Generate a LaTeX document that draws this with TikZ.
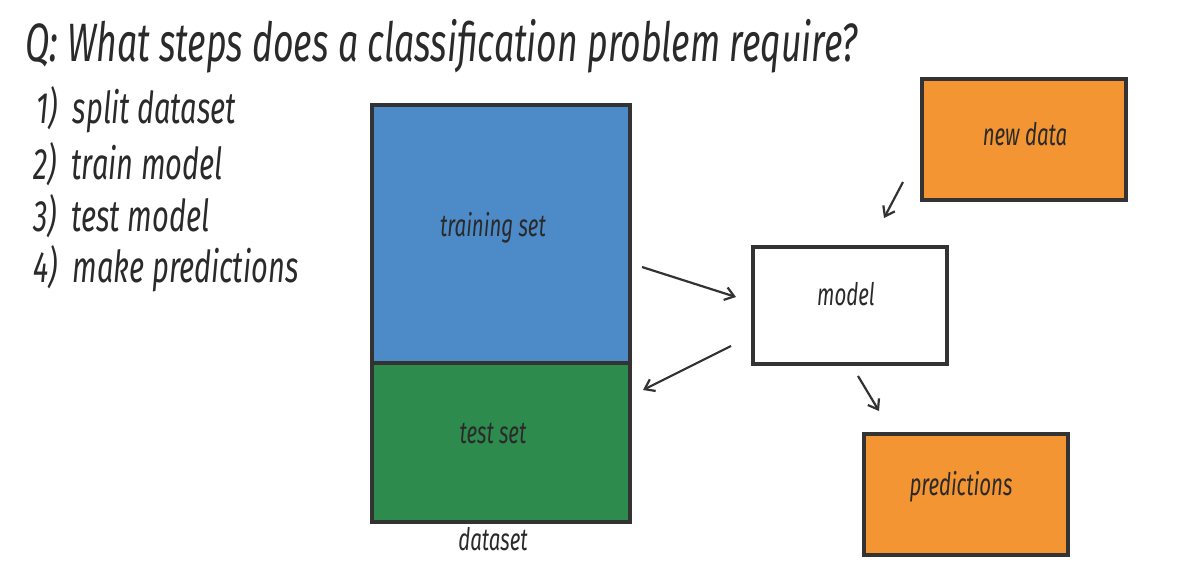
\documentclass[tikz,border=0pt]{standalone}
\usepackage{fontspec}
\setmainfont{Fira Sans}[FakeStretch=0.66]
\usetikzlibrary{arrows.meta}
\definecolor{txt}{HTML}{2A2A2A}
\definecolor{edge}{HTML}{333333}
\definecolor{bluefill}{HTML}{4D8AC8}
\definecolor{greenfill}{HTML}{2E8B4E}
\definecolor{orangefill}{HTML}{F39532}
\tikzset{
  box/.style={draw=edge,line width=3.5pt,inner sep=0pt,anchor=north west},
  lbl/.style={text=txt,font=\fontsize{31}{34}\selectfont\itshape,inner sep=0pt},
  listitem/.style={text=txt,font=\fontsize{44}{48}\selectfont\itshape,anchor=west,inner sep=0pt},
  arr/.style={draw=edge,line width=2.2pt,-{Straight Barb[length=9pt,width=13pt,line width=2.2pt]}}
}
\begin{document}
\begin{tikzpicture}[x=1pt,y=-1pt]
\useasboundingbox (0,0) rectangle (1178,566);
\node[text=txt,font=\fontsize{54}{58}\selectfont\itshape,anchor=west,inner sep=0pt] (title) at (25,46) {Q: What steps does a classification problem require?};
\node[listitem] (s1) at (36,110) {1)\ \ split dataset};
\node[listitem] (s2) at (33,164) {2)\ \ train model};
\node[listitem] (s3) at (33,216) {3)\ \ test model};
\node[listitem] (s4) at (33,269) {4)\ \ make predictions};
% dataset
\node[box,fill=bluefill,minimum width=258pt,minimum height=258pt] (train) at (370,103) {};
\node[box,fill=greenfill,minimum width=258pt,minimum height=159pt] (test) at (370,361) {};
\node[lbl] (trainl) at (493,228) {training set};
\node[lbl] (testl) at (493,433) {test set};
\node[lbl] (datal) at (493,539) {dataset};
% model
\node[box,fill=white,minimum width=194pt,minimum height=117pt] (model) at (751,245) {};
\node[lbl] (modell) at (846,294) {model};
% new data
\node[box,fill=orangefill,minimum width=204pt,minimum height=121pt] (new) at (920,77) {};
\node[lbl] (newl) at (1025,134) {new data};
% predictions
\node[box,fill=orangefill,minimum width=204pt,minimum height=121pt] (pred) at (862,432) {};
\node[lbl] (predl) at (961,487) {predictions};
% arrows
\coordinate (a1s) at (642,267); \coordinate (a1e) at (736,297);
\coordinate (a2s) at (731,346); \coordinate (a2e) at (643,390);
\coordinate (a3s) at (903,182); \coordinate (a3e) at (884,218);
\coordinate (a4s) at (858,376); \coordinate (a4e) at (879,411);
\draw[arr] (a1s) -- (a1e);
\draw[arr] (a2s) -- (a2e);
\draw[arr] (a3s) -- (a3e);
\draw[arr] (a4s) -- (a4e);
\end{tikzpicture}
\end{document}
